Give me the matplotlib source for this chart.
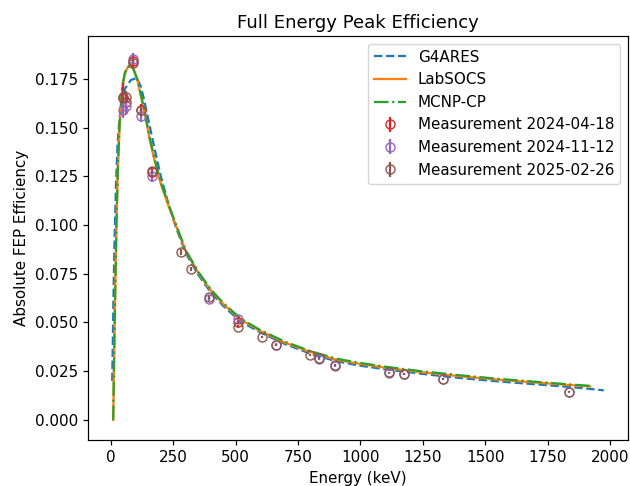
import matplotlib
matplotlib.use("Agg")
import matplotlib.pyplot as plt

# simulated efficiency curves
g4ares_energy = [5, 8, 11, 15, 20, 26, 34, 44, 56, 80, 104, 120, 135, 150, 175,
                 200, 230, 260, 300, 350, 400, 450, 520, 600, 700, 800, 900, 1000,
                 1100, 1250, 1400, 1550, 1700, 1850, 1975]
g4ares_eff = [0.020, 0.045, 0.070, 0.095, 0.120, 0.140, 0.155, 0.164, 0.170,
              0.1745, 0.1755, 0.171, 0.163, 0.154, 0.139, 0.125, 0.111, 0.099, 0.0855,
              0.0745, 0.0655, 0.0585, 0.0505, 0.0448, 0.0388, 0.0340, 0.0302, 0.0278,
              0.0260, 0.0236, 0.0215, 0.0198, 0.0183, 0.0168, 0.0152]

labsocs_energy = [9, 13, 17, 22, 28, 35, 45, 55, 65, 78, 90, 105, 120, 136, 155, 175,
                  200, 230, 260, 300, 350, 400, 450, 520, 600, 700, 800, 900, 1000,
                  1100, 1250, 1400, 1550, 1700, 1850, 1920]
labsocs_eff = [0.000, 0.035, 0.065, 0.100, 0.130, 0.152, 0.170, 0.177, 0.1805, 0.182,
               0.1805, 0.175, 0.166, 0.157, 0.144, 0.133, 0.121, 0.110, 0.100, 0.0865,
               0.0755, 0.0665, 0.0595, 0.0515, 0.0455, 0.0395, 0.0348, 0.0310, 0.0287,
               0.0268, 0.0244, 0.0224, 0.0207, 0.0192, 0.0178, 0.0172]

mcnp_energy = [9, 13, 17, 22, 28, 35, 45, 55, 65, 78, 90, 105, 120, 136, 155, 175,
               200, 230, 260, 300, 350, 400, 450, 520, 600, 700, 800, 900, 1000,
               1100, 1250, 1400, 1550, 1700, 1850, 1920]
mcnp_eff = [0.000, 0.036, 0.066, 0.101, 0.131, 0.153, 0.171, 0.178, 0.181, 0.182,
            0.180, 0.175, 0.167, 0.158, 0.145, 0.134, 0.122, 0.111, 0.1005, 0.087,
            0.076, 0.067, 0.060, 0.052, 0.046, 0.040, 0.0353, 0.0315, 0.0292,
            0.0273, 0.0249, 0.0229, 0.0211, 0.0196, 0.0181, 0.0175]

# measurements
meas1_label = "Measurement 2024-04-18"
meas1_energy = [46.5, 59.5, 88.0, 122.1, 165.9, 511.0]
meas1_eff = [0.165, 0.163, 0.184, 0.159, 0.127, 0.050]
meas1_err = [0.008, 0.004, 0.003, 0.003, 0.002, 0.001]

meas2_label = "Measurement 2024-11-12"
meas2_energy = [46.5, 59.5, 88.0, 122.1, 165.9, 391.7, 511.0, 661.7, 834.8, 898.0,
                1115.5, 1173.2, 1332.5, 1836.1]
meas2_eff = [0.159, 0.161, 0.1855, 0.156, 0.125, 0.062, 0.052, 0.0385, 0.0315, 0.0278,
             0.0242, 0.0234, 0.0210, 0.0143]
meas2_err = [0.004, 0.004, 0.003, 0.003, 0.003, 0.001, 0.001, 0.0008, 0.0006, 0.0006,
             0.0005, 0.0005, 0.0004, 0.0003]

meas3_label = "Measurement 2025-02-26"
meas3_energy = [46.5, 59.5, 88.0, 122.1, 165.9, 279.2, 320.1, 391.7, 511.0, 604.7,
                661.7, 795.9, 834.8, 898.0, 1115.5, 1173.2, 1332.5, 1836.1]
meas3_eff = [0.166, 0.166, 0.183, 0.159, 0.128, 0.0862, 0.0775, 0.063, 0.0478, 0.0425,
             0.0385, 0.0334, 0.0320, 0.0280, 0.0244, 0.0236, 0.0211, 0.0145]
meas3_err = [0.003, 0.003, 0.003, 0.002, 0.002, 0.0015, 0.0012, 0.001, 0.0008, 0.0007,
             0.0006, 0.0005, 0.0005, 0.0005, 0.0004, 0.0004, 0.0004, 0.0003]


def main():
    # reference looks like a default figure blown up ~1.09x
    plt.rcParams.update({
        "font.size": 10.9,
        "lines.linewidth": 1.63,
        "lines.markersize": 6.5,
        "axes.linewidth": 0.87,
        "xtick.major.size": 3.8,
        "ytick.major.size": 3.8,
        "xtick.major.width": 0.87,
        "ytick.major.width": 0.87,
    })

    fig = plt.figure(figsize=(6.3, 4.86), dpi=100)
    ax = fig.add_axes([0.1397, 0.0947, 0.857, 0.831])

    ax.plot(g4ares_energy, g4ares_eff, "--", color="C0", label="G4ARES")
    ax.plot(labsocs_energy, labsocs_eff, "-", color="C1", label="LabSOCS")
    ax.plot(mcnp_energy, mcnp_eff, "-.", color="C2", label="MCNP-CP")

    ax.errorbar(meas1_energy, meas1_eff, yerr=meas1_err, fmt="o", mfc="none",
                color="C3", label=meas1_label)
    ax.errorbar(meas2_energy, meas2_eff, yerr=meas2_err, fmt="o", mfc="none",
                color="C4", label=meas2_label)
    ax.errorbar(meas3_energy, meas3_eff, yerr=meas3_err, fmt="o", mfc="none",
                color="C5", label=meas3_label)

    ax.set_xlim(-92, 2072)
    ax.set_ylim(-0.0103, 0.197)
    ax.set_title("Full Energy Peak Efficiency")
    ax.set_xlabel("Energy (keV)")
    ax.set_ylabel("Absolute FEP Efficiency")
    ax.legend(loc="upper right", handlelength=2.1)

    fig.savefig("out.png", dpi=100)


if __name__ == "__main__":
    main()
